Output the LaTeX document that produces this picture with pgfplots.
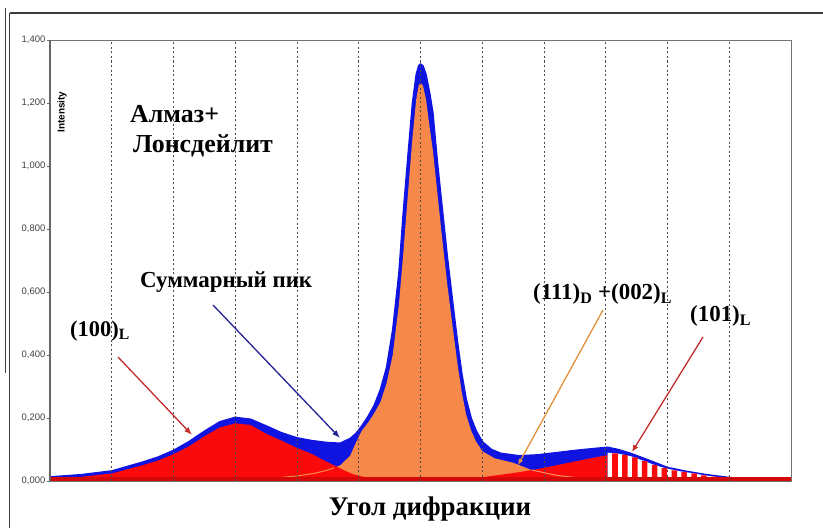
\documentclass[border=0pt]{standalone}
\usepackage{fontspec}
\setmainfont{Liberation Serif}
\setsansfont{Liberation Sans}
\usepackage{pgfplots}
\pgfplotsset{compat=1.18}
\usetikzlibrary{arrows.meta}
\definecolor{myblue}{RGB}{15,20,225}
\definecolor{myred}{RGB}{250,10,10}
\definecolor{myorange}{RGB}{246,136,74}
\definecolor{arrred}{RGB}{195,45,45}
\definecolor{arrblue}{RGB}{35,35,150}
\definecolor{arrorange}{RGB}{225,145,60}
\definecolor{framegray}{RGB}{60,60,60}
\begin{document}
\begin{tikzpicture}[x=1bp,y=1bp]
\useasboundingbox (0,0) rectangle (823,-528);
\begin{axis}[
  at={(50bp,-481bp)}, anchor=south west,
  scale only axis, width=741bp, height=441bp,
  xmin=0, xmax=12, ymin=0, ymax=1.4,
  axis on top, clip=false,
  xtick={1,2,3,4,5,6,7,8,9,10,11}, xticklabels={},
  major x tick style={draw=none},
  xmajorgrids,
  grid style={black!70, line width=0.9bp, dash pattern=on 2bp off 2.5bp},
  ytick={0,0.2,0.4,0.6,0.8,1.0,1.2,1.4},
  ytick pos=left, tick align=outside, major tick length=3bp,
  tick style={black!60, line width=0.8bp},
  yticklabel style={font=\sffamily\fontsize{9.5}{10}\selectfont, text=black!75, inner sep=1.5bp,
    /pgf/number format/fixed, /pgf/number format/fixed zerofill,
    /pgf/number format/precision=3, /pgf/number format/use comma,
    /pgf/number format/assume math mode=true},
  axis line style={black!55, line width=0.8bp},
]
% summary peak (blue)
\addplot[fill=myblue, draw=myblue, line width=1.5bp, line join=round] coordinates {
(0,0.013) (0.5,0.02) (1,0.032) (1.5,0.06) (1.75,0.076) (2,0.097) (2.25,0.125) (2.5,0.158) (2.75,0.188) (3,0.202) (3.25,0.196) (3.5,0.175) (3.75,0.153) (4,0.137) (4.25,0.128) (4.5,0.122) (4.7,0.12) (4.86,0.135) (4.95,0.15) (5.05,0.175) (5.15,0.205) (5.25,0.24) (5.35,0.29) (5.45,0.36) (5.55,0.48) (5.65,0.66) (5.72,0.85) (5.8,1.04) (5.87,1.2) (5.93,1.29) (5.97,1.318) (6,1.324) (6.04,1.318) (6.09,1.29) (6.15,1.23) (6.2,1.17) (6.27,1.02) (6.34,0.888) (6.43,0.72) (6.52,0.57) (6.6,0.44) (6.67,0.34) (6.74,0.26) (6.82,0.2) (6.9,0.16) (7,0.125) (7.15,0.1) (7.3,0.088) (7.6,0.08) (7.9,0.083) (8.2,0.09) (8.5,0.097) (8.8,0.103) (9.03,0.107) (9.2,0.1) (9.4,0.088) (9.7,0.066) (10,0.043) (10.3,0.031) (10.6,0.021) (11,0.011) (11.5,0.004) (12,0.002)
} \closedcycle;
% (111)D + (002)L  (orange)
\addplot[fill=myorange, draw=none] coordinates {
(3,0.001) (3.5,0.007) (4,0.016) (4.3,0.025) (4.5,0.035) (4.6,0.042) (4.7,0.05) (4.86,0.08) (4.95,0.12) (5.05,0.16) (5.15,0.185) (5.25,0.215) (5.35,0.25) (5.45,0.31) (5.55,0.4) (5.65,0.56) (5.72,0.72) (5.8,0.92) (5.87,1.09) (5.93,1.21) (5.97,1.255) (6,1.265) (6.04,1.255) (6.09,1.21) (6.15,1.12) (6.2,1.05) (6.27,0.92) (6.34,0.79) (6.43,0.63) (6.52,0.49) (6.6,0.37) (6.67,0.28) (6.74,0.21) (6.82,0.16) (6.9,0.125) (7,0.095) (7.2,0.072) (7.5,0.058) (7.8,0.035) (8.2,0.018) (8.6,0.009) (9,0.005) (9.5,0.003)
} \closedcycle;
% (100)L  (red)
\addplot[fill=myred, draw=none] coordinates {
(0,0.008) (0.5,0.013) (1,0.024) (1.5,0.05) (1.75,0.065) (2,0.085) (2.25,0.11) (2.5,0.142) (2.75,0.17) (3,0.183) (3.25,0.178) (3.5,0.15) (3.75,0.128) (4,0.105) (4.25,0.085) (4.43,0.066) (4.6,0.05) (4.75,0.035) (4.9,0.022) (5.1,0.012) (5.5,0.006) (6,0.004) (7,0.003)
} \closedcycle;
% orange tail lines
\addplot[myorange, line width=1bp] coordinates {(3,0.001) (3.5,0.007) (4,0.016) (4.3,0.025) (4.5,0.035) (4.6,0.042)};
% (101)L solid part (red)
\addplot[fill=myred, draw=none] coordinates {
(6.8,0.006) (7,0.012) (7.3,0.02) (7.6,0.028) (7.9,0.038) (8.2,0.05) (8.5,0.062) (8.8,0.074) (9.03,0.082) (9.03,0)
} \closedcycle;
\addplot[myorange!90!white, line width=1bp] coordinates {(7.8,0.035) (8.2,0.018) (8.6,0.009) (9,0.005)};
% striped part: white envelope and red stripes
\addplot[fill=white, draw=none] coordinates {
(9.03,0.09) (9.2,0.087) (9.4,0.079) (9.6,0.065) (9.8,0.05) (10,0.039) (10.2,0.031) (10.4,0.025) (10.6,0.018) (10.8,0.013) (11,0.008) (11.2,0.005) (11.5,0.003) (12,0.001)
} \closedcycle;
\addplot[ybar, bar width=0.09, fill=myred, draw=none] coordinates {
(9.15,0.088) (9.31,0.083) (9.47,0.075) (9.63,0.063) (9.79,0.051) (9.95,0.041) (10.11,0.034) (10.27,0.029) (10.43,0.024) (10.59,0.018) (10.75,0.014) (10.91,0.01) (11.07,0.007) (11.23,0.005) (11.39,0.004) (11.55,0.003)
};
% base strip
\addplot[myred!85!black, line width=3.5bp] coordinates {(0,0.006) (12,0.006)};
\end{axis}
% thicker left axis line
\draw[black!60, line width=1.6bp] (50,-40) -- (50,-481);
% outer frame lines
\draw[framegray, line width=1.2bp] (9.5,-13) -- (823,-13);
\draw[framegray, line width=1.2bp] (9.5,-13) -- (9.5,-528);
\draw[framegray, line width=1.5bp] (5.5,-8) -- (5.5,-373);
% texts
\node[rotate=90, font=\sffamily\bfseries\fontsize{10}{11}\selectfont, inner sep=0] at (62,-112) {Intensity};
\node[anchor=base west, inner sep=0, font=\bfseries\fontsize{26}{28}\selectfont] at (130,-123) {Алмаз+};
\node[anchor=base west, inner sep=0, font=\bfseries\fontsize{26}{28}\selectfont] at (133,-153) {Лонсдейлит};
\node[anchor=base west, inner sep=0, font=\bfseries\fontsize{23}{26}\selectfont] at (140,-288) {Суммарный пик};
\node[anchor=base west, inner sep=0, font=\bfseries\fontsize{22.5}{24}\selectfont] at (70,-336) {(100)\textsubscript{L}};
\node[anchor=base west, inner sep=0, font=\bfseries\fontsize{23}{24}\selectfont] at (533,-300) {(111)\textsubscript{D} +(002)\textsubscript{L}};
\node[anchor=base west, inner sep=0, font=\bfseries\fontsize{23}{24}\selectfont] at (690,-322) {(101)\textsubscript{L}};
\node[anchor=base, inner sep=0, font=\bfseries\fontsize{27}{28}\selectfont] at (430,-515) {Угол дифракции};
% arrows
\draw[arrred, line width=1.3bp, -{Latex[length=8bp,width=6bp]}] (118,-357) -- (192,-435);
\draw[arrblue, line width=1.3bp, -{Latex[length=8bp,width=6bp]}] (213,-305) -- (340,-438);
\draw[arrorange, line width=1.3bp, -{Latex[length=6bp,width=5bp]}] (603,-310) -- (518,-465);
\draw[arrred, line width=1.3bp, -{Latex[length=7bp,width=6bp]}] (703,-337) -- (632,-452);
\end{tikzpicture}
\end{document}
